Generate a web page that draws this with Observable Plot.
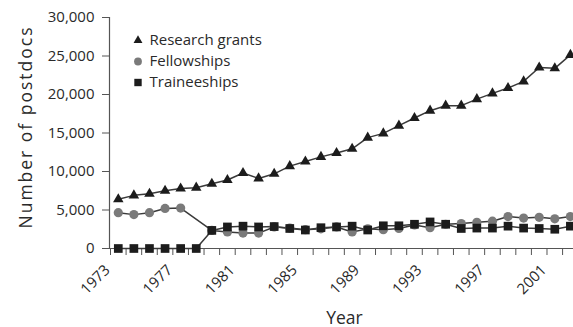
<!DOCTYPE html>
<html>
<head>
<meta charset="utf-8">
<script src="https://cdn.jsdelivr.net/npm/d3@7"></script>
<script src="https://cdn.jsdelivr.net/npm/@observablehq/plot@0.6"></script>
<style>
  html, body { margin: 0; padding: 0; background: #fff; }
  #chart svg { display: block; }
</style>
</head>
<body>
<div id="chart"></div>
<script>
const years = [1973,1974,1975,1976,1977,1978,1979,1980,1981,1982,1983,1984,1985,1986,1987,1988,1989,1990,1991,1992,1993,1994,1995,1996,1997,1998,1999,2000,2001,2002];
const researchGrants = [6400,6900,7100,7500,7800,7900,8400,8900,9800,9100,9700,10700,11300,11900,12400,12950,14400,14950,15950,16950,17900,18550,18550,19400,20150,20850,21700,23500,23400,25150];
const fellowships = [4650,4400,4650,5200,5250,null,2350,2150,2000,2000,2800,2650,2450,2550,2800,2150,2550,2450,2600,3050,2700,3150,3250,3400,3550,4150,3950,4050,3850,4150];
const traineeships = [0,0,0,0,0,0,2350,2800,2900,2800,2850,2600,2400,2700,2800,2900,2400,2950,2950,3150,3450,3150,2600,2650,2650,2900,2650,2600,2500,2900];
const seriesNames = ["Research grants","Fellowships","Traineeships"];
const seriesSymbols = ["triangle","circle","square"];
const seriesFills = ["#1c1c1c","#7a7a7a","#1c1c1c"];
const seriesR = [3.9,4.6,4.9];
const yTicks = [0,5000,10000,15000,20000,25000,30000];
const xLabels = [1973,1977,1981,1985,1989,1993,1997,2001];
const yTitle = "Number of postdocs";
const xTitle = "Year";

const seriesValues = [researchGrants, fellowships, traineeships];
const rows = [];
seriesNames.forEach((name, i) => {
  years.forEach((yr, j) => {
    const v = seriesValues[i][j];
    if (v != null) rows.push({year: yr, value: v, series: name});
  });
});
const yearEdges = years.map(y => y - 0.5).concat([years[years.length - 1] + 0.5]);

const font = "'Open Sans', sans-serif";
const textColor = "#2a2a2a";

const marks = [
  Plot.ruleY([0], {stroke: "#555", strokeWidth: 1.2}),
  Plot.ruleX([years[0] - 0.5], {y1: 0, y2: 30000, stroke: "#555", strokeWidth: 1.2, dx: -1}),
  Plot.axisY({ticks: yTicks, tickSize: 8, tickPadding: 8, tickFormat: d3.format(","), fontSize: 15, fill: textColor, stroke: "#555", label: null}),
  Plot.axisX({ticks: yearEdges, tickSize: 7, tickFormat: () => "", stroke: "#555", label: null}),
  Plot.text(xLabels, {x: d => d - 0.5, text: d => String(d), frameAnchor: "bottom", lineAnchor: "middle", rotate: -45, textAnchor: "end", dx: -3, dy: 19, fontSize: 15, fill: textColor}),
  Plot.text([yTitle], {frameAnchor: "left", textAnchor: "middle", lineAnchor: "middle", rotate: -90, dx: -84, dy: -6, fontSize: 17.5, fill: textColor}),
  Plot.text([xTitle], {frameAnchor: "bottom", dx: 2.5, dy: 75, fontSize: 17.5, fill: textColor}),
  Plot.line(rows, {x: "year", y: "value", z: "series", stroke: "#3a3a3a", strokeWidth: 1.5})
];
seriesNames.forEach((name, i) => {
  marks.push(Plot.dot(rows.filter(d => d.series === name), {x: "year", y: "value", symbol: () => seriesSymbols[i], fill: seriesFills[i], r: seriesR[i]}));
});
seriesNames.forEach((name, i) => {
  marks.push(Plot.dot([name], {frameAnchor: "top-left", dx: 27.5, dy: 23 + 21 * i, symbol: () => seriesSymbols[i], fill: seriesFills[i], r: seriesR[i] * 0.85}));
  marks.push(Plot.text([name], {frameAnchor: "top-left", dx: 39, dy: 23 + 21 * i, textAnchor: "start", lineAnchor: "middle", fontSize: 15, fill: textColor}));
});

const chart = Plot.plot({
  width: 573,
  height: 327,
  marginLeft: 110,
  marginRight: 0,
  marginTop: 17,
  marginBottom: 79,
  style: {fontFamily: font, color: textColor, background: "#fff", overflow: "visible"},
  x: {type: "linear", domain: [1972.5, 2002.2]},
  y: {domain: [0, 30000]},
  symbol: {type: "identity"},
  marks
});
d3.select(chart).selectAll("text").filter(function() { return this.textContent === yTitle; }).style("letter-spacing", "2px");
document.getElementById("chart").appendChild(chart);
</script>
</body>
</html>
